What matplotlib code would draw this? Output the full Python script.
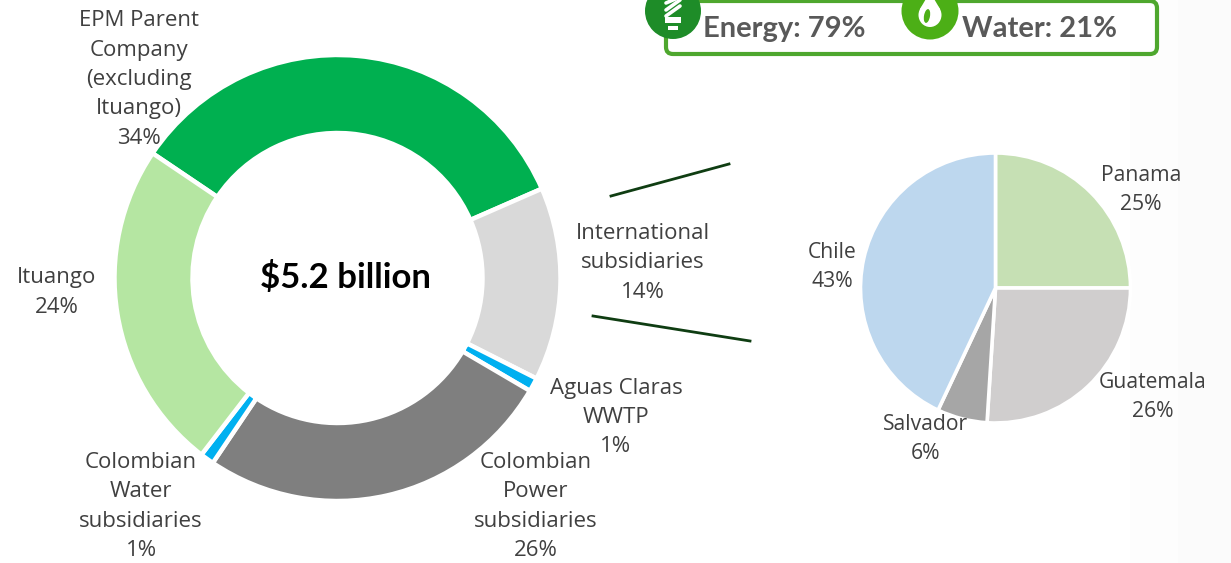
import matplotlib
matplotlib.use("Agg")
from matplotlib import pyplot as plt
from matplotlib.patches import Circle, FancyBboxPatch, Polygon, Rectangle, Ellipse

W, H = 1231, 563

# investment split, clockwise from the top-left boundary
ring_labels = ["EPM Parent\nCompany\n(excluding\nItuango)\n34%", "International\nsubsidiaries\n14%",
               "Aguas Claras\nWWTP\n1%", "Colombian\nPower\nsubsidiaries\n26%",
               "Colombian\nWater\nsubsidiaries\n1%", "Ituango\n24%"]
ring_values = [34, 14, 1, 26, 1, 24]
ring_colors = ["#00B050", "#D9D9D9", "#00B0F0", "#7F7F7F", "#00B0F0", "#B5E6A2"]
ring_label_pos = [(139, 79.5), (643, 263), (616, 417.5), (536, 506.5), (141, 506.5), (57, 292.5)]

# breakdown of the international subsidiaries
pie_labels = ["Panama\n25%", "Guatemala\n26%", "Salvador\n6%", "Chile\n43%"]
pie_values = [25, 26, 6, 43]
pie_colors = ["#C6E0B4", "#D0CECE", "#A6A6A6", "#BDD7EE"]
pie_label_pos = [(1141, 190), (1153, 397), (926, 439), (832, 267)]

total_text = "$5.2 billion"
energy_text = "Energy: 79%"
water_text = "Water: 21%"

plt.rcParams["font.family"] = ["Open Sans", "DejaVu Sans"]


def flip(y):
    # positions below are measured from the top edge
    return H - y


fig = plt.figure(figsize=(W / 100, H / 100), dpi=100)
ax = fig.add_axes([0, 0, 1, 1])

# faint grey bands down the right side of the slide
ax.add_patch(Rectangle((1130, 0), 48, H, fc="#FDFDFD", ec="none", zorder=0))
ax.add_patch(Rectangle((1178, 0), W - 1178, H, fc="#FBFBFB", ec="none", zorder=0))

ax.pie(ring_values, colors=ring_colors, startangle=146, counterclock=False,
       center=(337.5, flip(278)), radius=223,
       wedgeprops=dict(width=78, edgecolor="white", linewidth=3.2))
ax.pie(pie_values, colors=pie_colors, startangle=90, counterclock=False,
       center=(995.5, flip(288)), radius=135,
       wedgeprops=dict(edgecolor="white", linewidth=2.6))

ax.set_xlim(0, W)
ax.set_ylim(0, H)
ax.set_aspect("equal")
ax.axis("off")

for txt, (x, y) in zip(ring_labels + pie_labels, ring_label_pos + pie_label_pos):
    size = 16 if txt in ring_labels else 15.2
    spacing = 1.53 if txt in ring_labels else 1.56
    ax.text(x, flip(y), txt, ha="center", va="center", fontsize=size,
            color="#404040", linespacing=spacing)

ax.text(346, flip(278), total_text, ha="center", va="center", fontsize=25,
        fontweight="bold", color="black", family=["Lato", "DejaVu Sans"])

# connector lines between the ring and the pie
ax.plot([611, 729], [flip(196), flip(164)], color="#0F3D12", lw=2)
ax.plot([593, 750], [flip(316), flip(341)], color="#0F3D12", lw=2)

# summary box, its top edge runs along the figure border
ax.add_patch(FancyBboxPatch((666, flip(54)), 491, 53, boxstyle="round,pad=0,rounding_size=7",
                            fc="white", ec="#4EA72E", lw=3, zorder=2))
ax.add_patch(Circle((673, flip(11)), 28, fc="#1E8C28", ec="none", zorder=2))
ax.add_patch(Circle((930, flip(11)), 28.5, fc="#4CAF16", ec="none", zorder=2))

# bulb icon
for y0, y1 in [(-1, -3), (6, 0), (12, 6)]:
    ax.plot([666, 680], [flip(y0 + 4), flip(y1)], color="white", lw=2.6,
            solid_capstyle="round", zorder=3)
ax.add_patch(Rectangle((665, flip(23)), 16, 6, fc="white", ec="none", zorder=3))
ax.add_patch(Rectangle((668, flip(30)), 10, 4, fc="white", ec="none", zorder=3))

# water drop icon
ax.add_patch(Ellipse((930, flip(15)), 23, 24, fc="white", ec="none", zorder=3))
ax.add_patch(Polygon([(920, flip(9)), (940, flip(9)), (930, flip(-8))], fc="white", ec="none", zorder=3))
ax.add_patch(Ellipse((927, flip(16)), 6, 14, angle=-10, fc="#4CAF16", ec="none", zorder=3))

ax.text(703, flip(29), energy_text, ha="left", va="center", fontsize=21, fontweight="bold",
        color="#595959", family=["Lato", "DejaVu Sans"], zorder=4)
ax.text(962, flip(29), water_text, ha="left", va="center", fontsize=21, fontweight="bold",
        color="#595959", family=["Lato", "DejaVu Sans"], zorder=4)

fig.savefig("out.png", dpi=100)
